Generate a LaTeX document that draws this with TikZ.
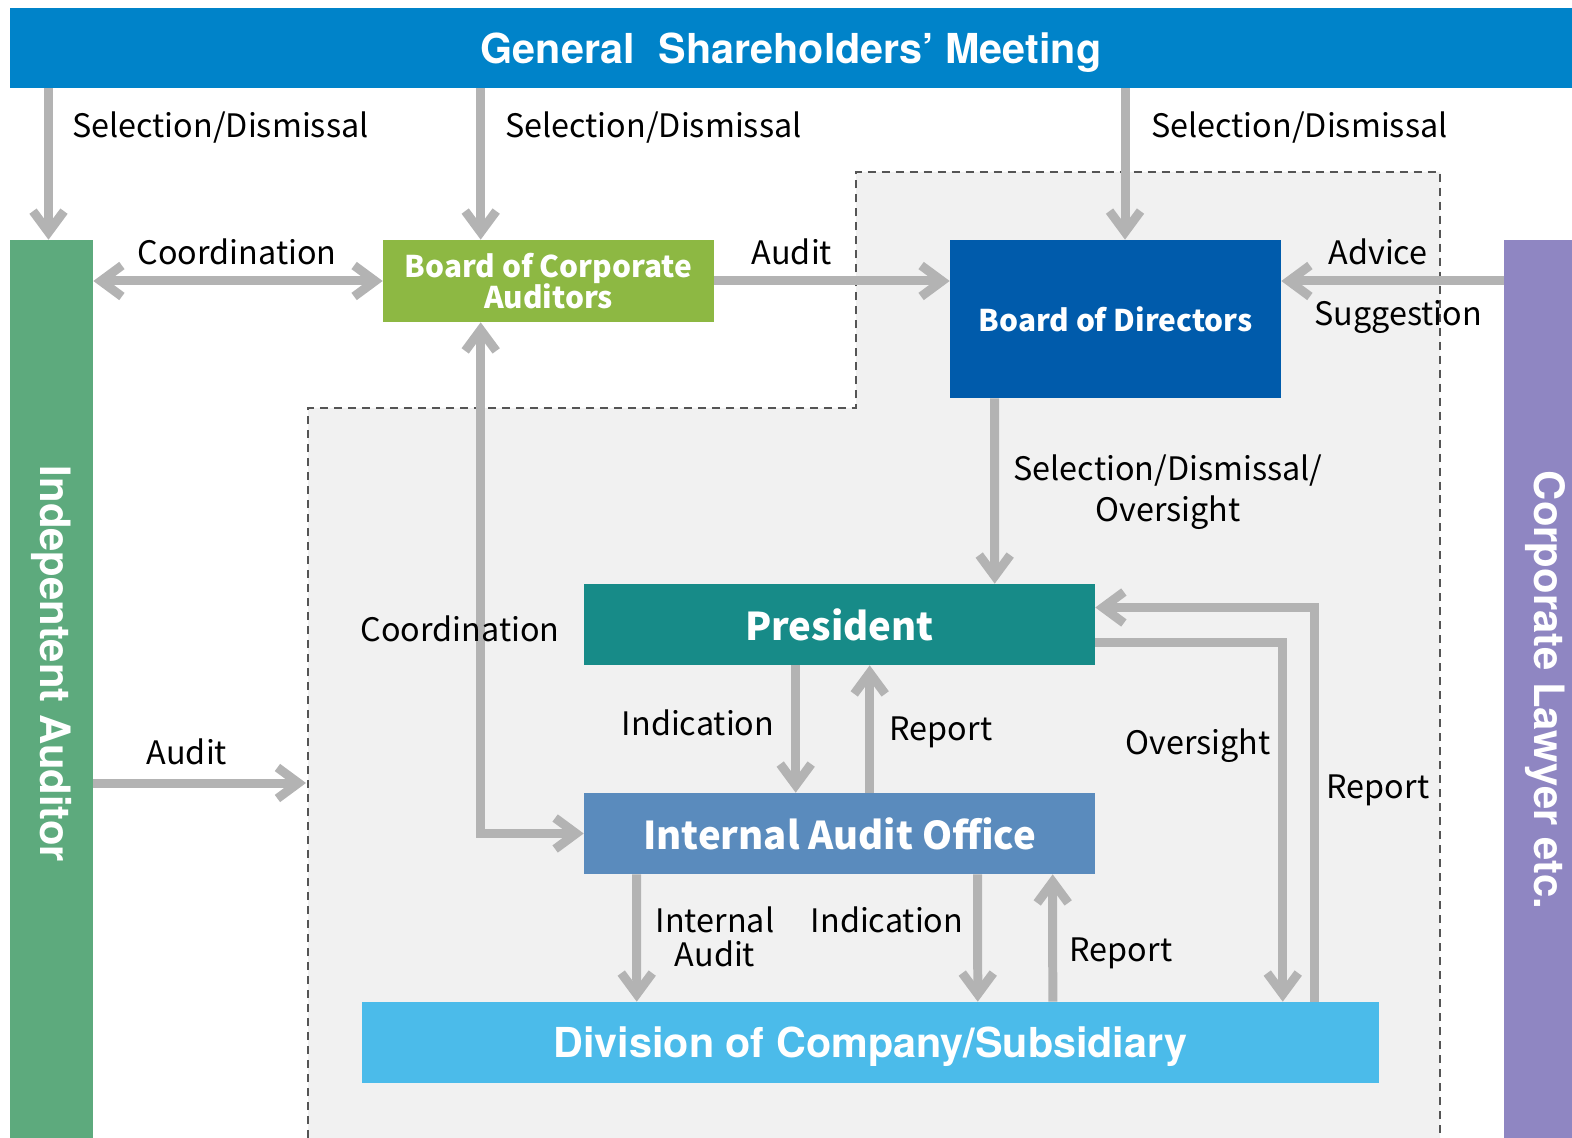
\documentclass[tikz,border=0pt]{standalone}
\usepackage{fontspec}
\setmainfont{Noto Sans CJK JP}
\newfontfamily\headfont{TeX Gyre Heros}
\usetikzlibrary{arrows.meta,calc}
\definecolor{gsmblue}{RGB}{0,131,201}
\definecolor{auditgreen}{RGB}{93,170,125}
\definecolor{lawpurple}{RGB}{143,134,194}
\definecolor{bcagreen}{RGB}{141,184,67}
\definecolor{bodblue}{RGB}{0,91,171}
\definecolor{presteal}{RGB}{23,139,136}
\definecolor{iaoblue}{RGB}{90,139,189}
\definecolor{divblue}{RGB}{75,187,234}
\definecolor{flowgray}{RGB}{179,179,179}
\definecolor{zonefill}{RGB}{241,241,241}
\definecolor{zoneline}{RGB}{85,85,85}
\tikzset{%
  unitbox/.style  = {shape=rectangle, inner sep=0pt, align=center,%
                     text=white, font=\bfseries\fontsize{17}{18}\selectfont},%
  bigbox/.style   = {unitbox, font=\bfseries\fontsize{21.8}{24}\selectfont},%
  bar/.style      = {unitbox, text depth=0pt, font=\headfont\bfseries\fontsize{23.5}{25}\selectfont},%
  sidetext/.style = {inner sep=0pt, text=white, rotate=-90,%
                     font=\headfont\bfseries\fontsize{23.8}{25}\selectfont},%
  barb/.tip       = {Straight Barb[length=0.42cm,width=0.62cm]},%
  flow/.style     = {draw=flowgray, line width=0.18cm, -barb},%
  biflow/.style   = {flow, barb-barb},%
  lbl/.style      = {inner sep=0pt, align=center, font=\fontsize{18.4}{23}\selectfont}%
}
\begin{document}
\begin{tikzpicture}[x=0.02cm,y=-0.02cm]
  \useasboundingbox (0,0) rectangle (1572,1138);
  % shaded zone with dashed border
  \fill[zonefill] (308,1138) -- (308,408) -- (856,408) -- (856,172) -- (1440,172) -- (1440,1138) -- cycle;
  \draw[zoneline, line width=1.2pt, dash pattern=on 0.16cm off 0.12cm]
    (308,1138) -- (308,408) -- (856,408) -- (856,172) -- (1440,172) -- (1440,1138);
  \coordinate (zoneedge) at (306,783);

  % bodies
  \node[bar, fill=gsmblue, minimum width=31.24cm, minimum height=1.6cm] (gsm) at (791,48)
    {General\hspace{0.3em} Shareholders’ Meeting};
  \node[bar, fill=auditgreen, minimum width=1.66cm, minimum height=17.96cm] (ia) at (51.5,689) {};
  \node[sidetext] (iatext) at (52,664) {Indepentent Auditor};
  \node[bar, fill=lawpurple, minimum width=1.36cm, minimum height=17.96cm] (lw) at (1538,689) {};
  \node[sidetext] (lwtext) at (1545,690) {Corporate Lawyer etc.};
  \node[unitbox, fill=bcagreen, minimum width=6.62cm, minimum height=1.64cm] (bca) at (548.5,281)
    {Board of Corporate\\Auditors};
  \node[unitbox, fill=bodblue, minimum width=6.62cm, minimum height=3.16cm] (bod) at (1115.5,319)
    {Board of Directors};
  \node[bigbox, fill=presteal, minimum width=10.22cm, minimum height=1.62cm] (pres) at (839.5,624.5)
    {President};
  \node[bigbox, fill=iaoblue, minimum width=10.22cm, minimum height=1.62cm] (iao) at (839.5,833.5)
    {Internal Audit Office};
  \node[bar, fill=divblue, minimum width=20.34cm, minimum height=1.62cm] (div) at (870.5,1042.5)
    {Division of Company/Subsidiary};

  % connectors
  \draw[flow] ($(gsm.south -| ia.north)+(-3,0)$) -- ($(ia.north)+(-3,0)$);
  \draw[flow] ($(gsm.south -| bca.north west)+(98,0)$) -- ($(bca.north west)+(98,0)$);
  \draw[flow] ($(gsm.south -| bod.north)+(9.5,0)$) -- ($(bod.north)+(9.5,0)$);
  \draw[biflow] (ia.east |- bca.west) -- (bca.west);
  \draw[flow] (bca.east) -- (bca.east -| bod.west);
  \draw[flow] (lw.west |- bca.east) -- (bca.east -| bod.east);
  \draw[flow] ($(bod.south west)+(45,0)$) -- ($(pres.north west)+(411,0)$);
  \draw[biflow] ($(bca.south west)+(98,0)$) |- (iao.west);
  \draw[flow] (ia.east |- zoneedge) -- (zoneedge);
  \draw[flow] ($(pres.south west)+(212,0)$) -- ($(iao.north west)+(212,0)$);
  \draw[flow] ($(iao.north west)+(286,0)$) -- ($(pres.south west)+(286,0)$);
  \draw[flow] ($(pres.east)+(0,18)$) -| ($(div.north west)+(921,0)$);
  \draw[flow] ($(div.north west)+(953,0)$) |- ($(pres.east)+(0,-17)$);
  \draw[flow] ($(iao.south west)+(53,0)$) -- ($(div.north west)+(275,0)$);
  \draw[flow] ($(iao.south west)+(394,0)$) -- ($(div.north west)+(616,0)$);
  \draw[flow] ($(div.north west)+(691,0)$) -- ($(iao.south west)+(469,0)$);

  % labels
  \node[lbl, anchor=west] (lselA) at (72,128) {Selection/Dismissal};
  \node[lbl, anchor=west] (lselB) at (505,128) {Selection/Dismissal};
  \node[lbl, anchor=west] (lselC) at (1151,128) {Selection/Dismissal};
  \node[lbl] (lcoordA) at (237,252) {Coordination};
  \node[lbl] (lauditA) at (792,252) {Audit};
  \node[lbl] (ladvice) at (1378,252) {Advice};
  \node[lbl] (lsugg) at (1398,317) {Suggestion};
  \node[lbl] (lselD) at (1168,492) {Selection/Dismissal/\\Oversight};
  \node[lbl] (lcoordB) at (460,629) {Coordination};
  \node[lbl] (lauditB) at (187,752) {Audit};
  \node[lbl] (lindA) at (698,723) {Indication};
  \node[lbl] (lrepA) at (941,732) {Report};
  \node[lbl] (lover) at (1198,746) {Oversight};
  \node[lbl] (lrepB) at (1378,790) {Report};
  \node[lbl, font=\fontsize{18.4}{19}\selectfont] (linternal) at (715,937) {Internal\\Audit};
  \node[lbl] (lindB) at (887,920) {Indication};
  \node[lbl] (lrepC) at (1121,953) {Report};
\end{tikzpicture}
\end{document}
